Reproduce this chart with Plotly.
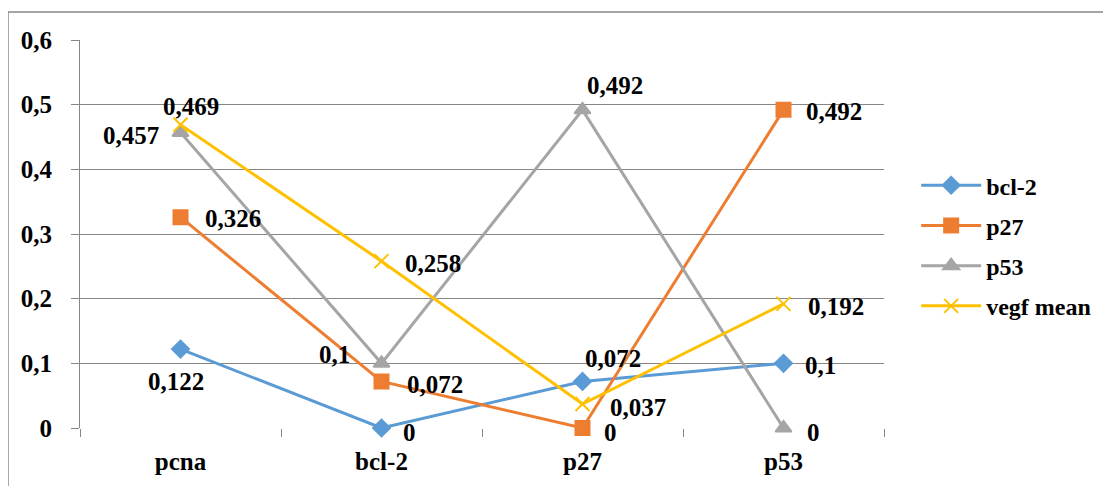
import plotly.graph_objects as go

categories = ["pcna", "bcl-2", "p27", "p53"]
series_names = ["bcl-2", "p27", "p53", "vegf mean"]
bcl2 = [0.122, 0, 0.072, 0.1]
p27 = [0.326, 0.072, 0, 0.492]
p53 = [0.457, 0.1, 0.492, 0]
vegf = [0.469, 0.258, 0.037, 0.192]
ytick_vals = [0, 0.1, 0.2, 0.3, 0.4, 0.5, 0.6]
ytick_text = ["0", "0,1", "0,2", "0,3", "0,4", "0,5", "0,6"]

colors = ["#5B9BD5", "#ED7D31", "#A5A5A5", "#FFC000"]
symbols = ["diamond", "square", "triangle-up", "x-thin"]
msizes = [13, 14, 14, 14]
all_series = [bcl2, p27, p53, vegf]

# label offsets (px, +x right, +y down) per series per point
offsets = [
    [(-5, 32), (28, 4), (30, -23), (37, 2)],
    [(52, 1), (53, 3), (28, 4), (50, 2)],
    [(-50, 3), (-47, -9), (32, -24), (30, 4)],
    [(10, -18), (51, 2), (55, 3), (52, 3)],
]

FONT = "Liberation Serif"
FS = 25

fig = go.Figure()
for i, (name, vals, c, s, ms) in enumerate(zip(series_names, all_series, colors, symbols, msizes)):
    fig.add_trace(go.Scatter(
        x=categories, y=vals, name=name, mode="lines+markers",
        legendgroup="g%d" % i,
        line=dict(color=c, width=3),
        marker=dict(symbol=s, size=ms, color=c, line=dict(color=c, width=2)),
        cliponaxis=False,
    ))

annotations = []
for vals, offs in zip(all_series, offsets):
    for cat, v, (dx, dy) in zip(categories, vals, offs):
        txt = ("%g" % v).replace(".", ",")
        annotations.append(dict(
            x=cat, y=v, xref="x", yref="y", text=txt, showarrow=False,
            xshift=dx, yshift=-dy, xanchor="center", yanchor="middle",
            font=dict(family=FONT, size=FS, color="black", weight="bold"),
        ))

fig.update_layout(
    width=1103, height=478,
    margin=dict(l=72, r=227, t=32, b=58),
    paper_bgcolor="white", plot_bgcolor="white",
    font=dict(family=FONT, size=FS, color="black", weight="bold"),
    annotations=annotations,
    showlegend=True,
    legend=dict(x=1.04, y=0.47, xanchor="left", yanchor="middle",
                font=dict(family=FONT, size=24, color="black", weight="bold"),
                tracegroupgap=6, itemwidth=60, bgcolor="rgba(0,0,0,0)"),
    xaxis=dict(
        type="category", range=[-0.5, 3.5], showgrid=False,
        showline=False, ticks="outside", tickson="boundaries",
        ticklen=8, tickcolor="#868686", tickwidth=1,
        ticklabelstandoff=16,
        tickfont=dict(family=FONT, size=FS, color="black", weight="bold"),
        fixedrange=True,
    ),
    yaxis=dict(
        range=[0, 0.6], tickvals=ytick_vals, ticktext=ytick_text,
        showgrid=True, gridcolor="#868686", gridwidth=1,
        showline=True, linecolor="#868686", linewidth=1,
        ticks="outside", ticklen=8, tickcolor="#868686",
        zeroline=False, ticklabelstandoff=14,
        tickfont=dict(family=FONT, size=FS, color="black", weight="bold"),
    ),
    shapes=[dict(type="rect", xref="paper", yref="paper",
                 x0=-0.0896, x1=1.5, y0=-0.3, y1=1.072,
                 line=dict(color="#868686", width=1.5), layer="below")],
)

fig.write_html("out.html")
